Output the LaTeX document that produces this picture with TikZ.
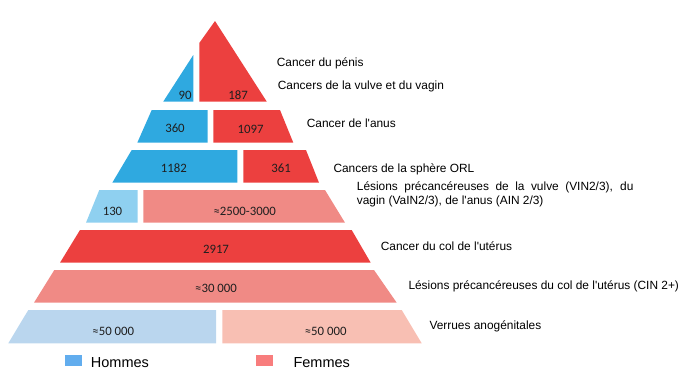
\documentclass[tikz,border=0pt]{standalone}
\usepackage{fontspec}
\setmainfont{Liberation Sans}[Ligatures=TeXOff]
\newfontfamily\numfont{Carlito}
\definecolor{bS}{HTML}{2FA9E0}
\definecolor{rS}{HTML}{EC403F}
\definecolor{bM}{HTML}{8FD0F0}
\definecolor{rM}{HTML}{F08A85}
\definecolor{bL}{HTML}{BAD6EE}
\definecolor{rL}{HTML}{F8BFB3}
\definecolor{legB}{HTML}{62ADEE}
\definecolor{legR}{HTML}{F87D7D}
\begin{document}
\begin{tikzpicture}[x=1pt,y=-1pt,
  lbl/.style={anchor=base west,inner sep=0pt,font=\fontsize{11.9}{13.3}\selectfont},
  num/.style={anchor=base,inner sep=0pt,font=\numfont\fontsize{12.8}{14}\selectfont,text=black!88},
  leg/.style={anchor=base west,inner sep=0pt,font=\fontsize{14.5}{16}\selectfont}]
\useasboundingbox (0,0) rectangle (688,383);
% row 1
\fill[bS] (163.3,101.5) -- (193.3,55) -- (193.3,101.5) -- cycle;
\fill[rS] (199.3,101.5) -- (199.3,43) -- (215,21) -- (266.7,101.5) -- cycle;
% row 2
\fill[bS] (151.7,110) -- (207.7,110) -- (207.7,142.7) -- (137.3,142.7) -- cycle;
\fill[rS] (213.3,110) -- (280,110) -- (293.3,142.7) -- (213.3,142.7) -- cycle;
% row 3
\fill[bS] (131.7,150) -- (237.3,150) -- (237.3,182.7) -- (112.3,182.7) -- cycle;
\fill[rS] (243.3,150) -- (306,150) -- (319,182.7) -- (243.3,182.7) -- cycle;
% row 4
\fill[bM] (99.3,190) -- (137.7,190) -- (137.7,222.7) -- (86,222.7) -- cycle;
\fill[rM] (143.3,190) -- (325,190) -- (345,222.7) -- (143.3,222.7) -- cycle;
% row 5
\fill[rS] (80,230) -- (351.7,230) -- (370.7,262.7) -- (60,262.7) -- cycle;
% row 6
\fill[rM] (54.3,270) -- (374,270) -- (396.7,302.7) -- (34,302.7) -- cycle;
% row 7
\fill[bL] (28.3,310) -- (216,310) -- (216,343.3) -- (8.3,343.3) -- cycle;
\fill[rL] (222.3,310) -- (401.7,310) -- (421.7,343.3) -- (222.3,343.3) -- cycle;
% numbers
\node[num] (n90) at (185,99.3) {90};
\node[num] (n187) at (238,99.3) {187};
\node[num] (n360) at (175,132.7) {360};
\node[num] (n1097) at (250.7,133) {1097};
\node[num] (n1182) at (173.8,172.3) {1182};
\node[num] (n361) at (281,172.3) {361};
\node[num] (n130) at (112.5,215.5) {130};
\node[num] (n2500) at (244.7,215.2) {≈2500-3000};
\node[num] (n2917) at (216,253.3) {2917};
\node[num] (n30000) at (216,292.7) {≈30 000};
\node[num] (n50h) at (113.3,335) {≈50 000};
\node[num] (n50f) at (325.7,335) {≈50 000};
% labels
\node[lbl] (lpenis) at (276.7,66.7) {Cancer du pénis};
\node[lbl] (lvulve) at (277.7,89.3) {Cancers de la vulve et du vagin};
\node[lbl] (lanus) at (306.7,127.3) {Cancer de l'anus};
\node[lbl] (lorl) at (333.3,172.7) {Cancers de la sphère ORL};
\node[lbl,align=left] (lles) at (356.7,204) {\makebox[276.6pt][s]{Lésions précancéreuses de la vulve (VIN2/3), du}\\vagin (VaIN2/3), de l'anus (AIN 2/3)};
\node[lbl] (lcol) at (380.7,250.7) {Cancer du col de l'utérus};
\node[lbl] (lcin) at (408.3,289.3) {Lésions précancéreuses du col de l'utérus (CIN 2+)};
\node[lbl] (lverr) at (429.3,329.3) {Verrues anogénitales};
% legend
\fill[legB] (65,355) rectangle (81.7,365.7);
\node[leg] (lh) at (90.7,367.3) {Hommes};
\fill[legR] (256,355) rectangle (272.7,365.7);
\node[leg] (lf) at (293.3,367.3) {Femmes};
\end{tikzpicture}
\end{document}
